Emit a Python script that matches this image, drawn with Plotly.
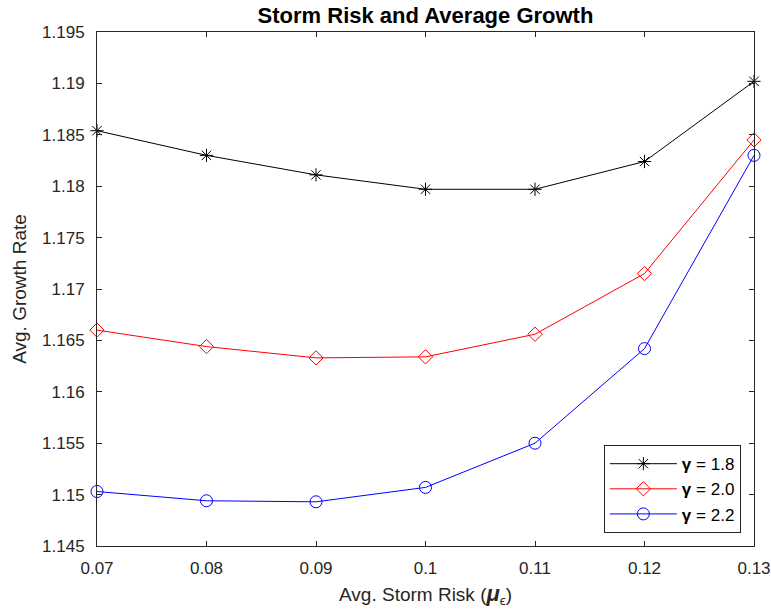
import plotly.graph_objects as go

storm_risk = [0.07, 0.08, 0.09, 0.10, 0.11, 0.12, 0.13]
growth_g18 = [1.1854, 1.1830, 1.1811, 1.1797, 1.1797, 1.1824, 1.1902]
growth_g20 = [1.1660, 1.1644, 1.1633, 1.1634, 1.1656, 1.1715, 1.1845]
growth_g22 = [1.1503, 1.1494, 1.1493, 1.1507, 1.1550, 1.1642, 1.1830]

x_tickvals = [0.07, 0.08, 0.09, 0.10, 0.11, 0.12, 0.13]
x_ticktext = ["0.07", "0.08", "0.09", "0.1", "0.11", "0.12", "0.13"]
y_tickvals = [1.145, 1.15, 1.155, 1.16, 1.165, 1.17, 1.175, 1.18, 1.185, 1.19, 1.195]
y_ticktext = ["1.145", "1.15", "1.155", "1.16", "1.165", "1.17", "1.175", "1.18", "1.185", "1.19", "1.195"]

series = [
    ("<b>γ</b> = 1.8", growth_g18, "#000000", "asterisk-open", 11),
    ("<b>γ</b> = 2.0", growth_g20, "#ff0000", "diamond-open", 11),
    ("<b>γ</b> = 2.2", growth_g22, "#0000ff", "circle-open", 12),
]

fig = go.Figure()
for name, vals, color, sym, size in series:
    fig.add_trace(go.Scatter(
        x=storm_risk, y=vals, name=name, mode="lines+markers",
        line=dict(color=color, width=1),
        marker=dict(symbol=sym, size=size, color=color, line=dict(color=color, width=1)),
        cliponaxis=False,
    ))

axis_color = "#262626"
font_family = "Liberation Sans, Arial, sans-serif"

fig.update_layout(
    width=771, height=616,
    margin=dict(l=97, r=17, t=32, b=70),
    paper_bgcolor="white", plot_bgcolor="white",
    font=dict(family=font_family, size=17, color=axis_color),
    title=dict(text="<b>Storm Risk and Average Growth</b>", x=(97 + 754) / 2 / 771, xanchor="center",
               y=1 - 15 / 616, yanchor="middle", font=dict(size=22, color="#000000")),
    showlegend=True,
    legend=dict(x=0.98, y=0.025, xanchor="right", yanchor="bottom",
                bgcolor="white", bordercolor=axis_color, borderwidth=1, itemwidth=67,
                font=dict(size=17, color="#000000"), tracegroupgap=0),
)

fig.update_xaxes(
    range=[0.07, 0.13], tickvals=x_tickvals, ticktext=x_ticktext, automargin=False,
    ticklabeloverflow="allow",
    showline=True, linecolor=axis_color, linewidth=1, mirror="ticks",
    ticks="inside", ticklen=5, tickcolor=axis_color, showgrid=False, zeroline=False,
    tickfont=dict(size=17, color=axis_color), ticklabelstandoff=7,
    title=dict(text="Avg. Storm Risk (<b><i><span style='font-size:22px'>μ</span></i></b><sub>ϵ</sub>)",
               font=dict(size=19, color=axis_color), standoff=10),
)
fig.update_yaxes(
    range=[1.145, 1.195], tickvals=y_tickvals, ticktext=y_ticktext, automargin=False,
    ticklabeloverflow="allow",
    showline=True, linecolor=axis_color, linewidth=1, mirror="ticks",
    ticks="inside", ticklen=5, tickcolor=axis_color, showgrid=False, zeroline=False,
    tickfont=dict(size=17, color=axis_color), ticklabelstandoff=8,
    title=dict(text="Avg. Growth Rate", font=dict(size=19, color=axis_color), standoff=10),
)

fig.write_html("out.html", config={"displayModeBar": False},
               post_script="document.body.style.margin='0px';")
